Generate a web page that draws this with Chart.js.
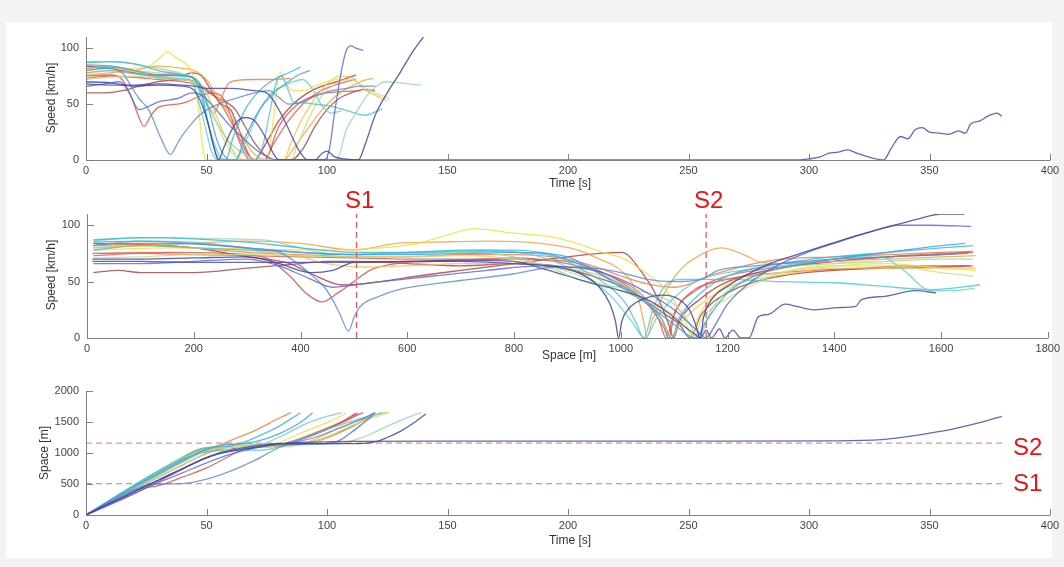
<!DOCTYPE html>
<html>
<head>
<meta charset="utf-8">
<script src="https://cdn.jsdelivr.net/npm/chart.js@4.4.0/dist/chart.umd.min.js"></script>
<style>
  body { margin: 0; background: #f3f3f3; width: 1064px; height: 567px; overflow: hidden; position: relative; font-family: "Liberation Sans", Arial, sans-serif; }
  #sheet { position: absolute; left: 6px; top: 22px; width: 1046px; height: 536px; background: #ffffff; }
  canvas { position: absolute; left: 0; }
  .mark { position: absolute; color: #ee1111; font: 24px "Liberation Sans", Arial, sans-serif; line-height: 24px; }
</style>
</head>
<body>
<div id="sheet"></div>
<canvas id="speedTimeCanvas" width="1064" height="190" style="top:0px"></canvas>
<canvas id="speedSpaceCanvas" width="1064" height="175" style="top:190px"></canvas>
<canvas id="spaceTimeCanvas" width="1064" height="202" style="top:365px"></canvas>
<div class="mark" style="left:345px; top:188px">S1</div>
<div class="mark" style="left:694px; top:188px">S2</div>
<div class="mark" style="left:1013px; top:435px">S2</div>
<div class="mark" style="left:1013px; top:471px">S1</div>
<script>
//tick values of the axes
const timeTicks = [0, 50, 100, 150, 200, 250, 300, 350, 400];
const spaceTicksX = [0, 200, 400, 600, 800, 1000, 1200, 1400, 1600, 1800];
const speedTicks = [0, 50, 100];
const spaceTicksY = [0, 500, 1000, 1500, 2000];

//positions of the two sections [m]
const S1 = 505;
const S2 = 1160;
const dashEndTime = 380;

//one colour per vehicle (jet-like order)
const vehicleColors = [
  "#4444b2", "#3a3aa8", "#4c6cd8", "#5a88de", "#3d9ee2", "#2fb6e6",
  "#46c6d6", "#66d2c6", "#96da9a", "#c6e274", "#f8da3c", "#f6c24a",
  "#f4a23a", "#f07a3a", "#e25a46", "#dc4c4c", "#b83232", "#a04444",
];

//speed [km/h] over time [s], one list of [t, v] per vehicle
const speedTime = [
  [[0,68],[10,67],[20,67],[30,68],[40,67],[45,66],[50,64],[60,64],[70,62],[75,60],[80,45],[84,28],[88,10],[92,0],[150,0],[296,0],[300,1],[305,3],[308,6],[312,7],[316,9],[320,6],[326,2],[331,0],[334,10],[338,21],[341,19],[344,27],[347,29],[350,25],[354,24],[358,23],[362,26],[365,24],[367,32],[371,35],[374,39],[378,42],[380,39]],
  [[0,70],[10,69],[20,66],[30,67],[40,66],[45,62],[48,50],[51,30],[53,12],[55,0],[57,10],[60,25],[63,35],[66,38],[70,35],[74,22],[78,5],[80,0],[95,0],[98,6],[100,8],[103,3],[107,1],[113,0],[116,15],[120,40],[125,60],[130,77],[135,95],[140,110]],
  [[0,66],[8,68],[14,70],[18,60],[22,45],[26,48],[30,52],[38,55],[44,60],[48,58],[52,50],[56,40],[60,30],[65,20],[70,10],[76,2],[80,0],[99,0],[101,10],[103,40],[106,80],[108,98],[110,102],[112,100],[115,98]],
  [[0,80],[8,82],[15,78],[19,65],[22,55],[26,45],[31,20],[35,5],[38,15],[40,22],[44,33],[47,40],[51,46],[55,50],[62,55],[70,60],[76,62],[80,56],[84,50],[90,52],[96,58],[102,62],[108,64],[114,66],[120,66]],
  [[0,85],[10,84],[20,80],[30,76],[40,75],[45,73],[48,65],[51,45],[54,20],[57,5],[60,0],[62,0],[66,20],[72,45],[78,60],[84,70],[88,76],[93,80]],
  [[0,87],[10,88],[20,86],[30,80],[40,76],[45,72],[48,60],[50,40],[52,20],[54,5],[56,0],[58,0],[61,20],[66,45],[72,62],[78,72],[84,78],[89,83]],
  [[0,78],[10,80],[20,77],[30,75],[40,76],[45,72],[48,55],[51,30],[54,10],[56,2],[60,0],[70,0],[73,10],[76,40],[79,70],[81,75],[84,62],[86,52],[90,51],[95,50],[102,48],[110,43],[116,40],[120,43],[123,46]],
  [[0,82],[10,84],[20,80],[30,74],[40,73],[44,70],[47,50],[50,25],[52,8],[55,0],[62,0],[66,15],[70,35],[74,52],[78,62],[82,66],[86,70],[90,72],[95,60],[98,48],[102,42],[106,44]],
  [[0,88],[10,88],[20,86],[30,82],[40,77],[45,72],[50,50],[55,30],[60,15],[66,5],[72,0],[104,0],[108,27],[112,42],[116,56],[120,65],[124,70],[130,69],[139,67]],
  [[0,72],[10,74],[20,75],[30,73],[40,72],[46,68],[50,55],[54,35],[58,15],[62,3],[66,0],[85,0],[88,15],[92,35],[96,52],[100,62],[105,70],[110,72],[115,66],[120,60],[126,55]],
  [[0,78],[10,80],[20,82],[26,84],[30,90],[34,97],[37,92],[40,88],[43,82],[45,70],[47,40],[48.5,10],[50,0],[75,0],[78,40],[80.5,79],[83,68],[86,62],[90,62],[95,66],[100,70],[106,73]],
  [[0,80],[10,82],[20,80],[30,78],[40,76],[46,72],[50,60],[54,40],[58,20],[62,5],[66,0],[82,0],[85,15],[90,38],[95,55],[100,68],[105,75],[110,74],[115,64],[120,58],[125,53]],
  [[0,76],[10,78],[20,80],[30,84],[40,82],[45,80],[50,72],[55,55],[60,40],[64,25],[68,10],[72,2],[78,0],[82,0],[86,10],[92,28],[98,45],[104,58],[110,66],[115,71],[119,73]],
  [[0,82],[10,83],[20,78],[30,74],[40,72],[45,70],[48,60],[50,50],[53,42],[56,55],[59,68],[62,71],[70,72],[78,72],[85,73]],
  [[0,73],[10,75],[20,74],[30,72],[40,70],[48,66],[52,60],[56,50],[60,35],[64,18],[67,5],[70,0],[74,0],[78,15],[84,35],[90,50],[96,60],[102,66],[108,70],[112,72]],
  [[0,75],[10,76],[15,72],[19,55],[22,38],[24,30],[27,40],[30,47],[38,50],[42,52],[47,57],[52,60],[57,55],[60,40],[63,20],[66,5],[68,0],[74,0],[80,30],[88,50],[100,60],[114,62]],
  [[0,84],[10,82],[20,78],[30,76],[40,76],[44,78],[48,75],[52,62],[56,50],[60,45],[63,30],[66,12],[68,3],[70,0],[72,5],[76,20],[80,35],[86,50],[92,60],[98,66],[104,70],[108,73],[112,76]],
  [[0,60],[8,60],[15,62],[22,66],[30,70],[40,72],[45,70],[50,62],[55,55],[58,52],[62,45],[66,30],[70,15],[74,5],[78,0],[85,0],[90,10],[95,30],[100,45],[105,55],[110,60],[115,63],[120,62]],
];

//speed [km/h] over space [m], one list of [s, v] per vehicle
const speedSpace = [
  [[10,68],[100,68],[200,67],[300,67],[400,67],[500,67],[600,68],[700,69],[800,68],[850,62],[900,55],[950,48],[1000,42],[1050,34],[1090,22],[1120,10],[1140,3],[1150,0],[1160,7],[1170,0],[1185,8],[1195,0],[1210,7],[1225,0],[1240,0],[1258,19],[1277,21],[1308,30],[1330,28],[1364,25],[1407,27],[1440,28],[1451,34],[1495,37],[1551,42],[1591,40]],
  [[10,70],[100,70],[200,71],[300,72],[360,66],[420,58],[460,60],[500,67],[600,68],[700,68],[800,66],[880,63],[930,56],[960,45],[980,30],[990,15],[996,0],[1002,15],[1015,26],[1040,34],[1080,38],[1110,34],[1130,24],[1140,12],[1149,0],[1155,18],[1170,34],[1200,46],[1270,64],[1330,74],[1395,84],[1450,92],[1520,101],[1560,106],[1600,110],[1644,110]],
  [[12,66],[100,66],[200,68],[300,70],[360,64],[420,52],[460,45],[500,47],[550,50],[650,55],[750,60],[850,64],[950,60],[1000,52],[1050,40],[1100,25],[1140,8],[1160,0],[1175,10],[1200,30],[1250,52],[1300,66],[1350,76],[1400,84],[1460,93],[1520,100],[1580,100],[1656,99]],
  [[12,82],[60,84],[150,84],[250,82],[330,78],[361,76],[400,64],[423,55],[445,45],[460,34],[475,20],[490,6],[500,18],[510,27],[547,37],[584,43],[650,48],[700,51],[800,57],[878,63],[950,62],[1000,58],[1050,52],[1100,50],[1150,52],[1183,60],[1250,64],[1300,66],[1400,70],[1500,72],[1600,74],[1650,75]],
  [[12,85],[100,86],[200,84],[300,80],[400,76],[500,74],[600,74],[700,75],[800,76],[900,72],[950,60],[1000,45],[1050,30],[1100,12],[1140,0],[1160,15],[1200,40],[1250,55],[1300,62],[1400,70],[1500,76],[1600,82],[1645,84]],
  [[12,87],[100,89],[200,88],[300,85],[400,80],[500,76],[600,76],[700,78],[800,78],[870,74],[930,64],[990,50],[1040,35],[1075,18],[1095,0],[1110,18],[1150,40],[1200,55],[1300,66],[1400,72],[1500,76],[1600,80],[1660,82]],
  [[12,78],[100,82],[200,80],[300,78],[400,76],[500,74],[600,76],[700,77],[800,76],[880,72],[930,60],[980,45],[1010,30],[1030,12],[1043,0],[1060,25],[1080,45],[1110,52],[1150,52],[1200,52],[1300,50],[1400,49],[1488,46],[1581,43],[1673,47]],
  [[12,82],[100,86],[200,85],[300,80],[400,76],[460,74],[550,75],[650,76],[750,78],[850,72],[920,58],[980,38],[1020,15],[1045,0],[1070,20],[1110,40],[1150,52],[1200,58],[1300,64],[1400,70],[1482,73],[1530,60],[1581,42],[1620,42],[1663,44]],
  [[12,86],[60,88],[150,89],[250,88],[330,87],[400,80],[450,75],[500,74],[600,75],[700,76],[800,72],[880,60],[920,52],[960,47],[1000,45],[1050,40],[1100,30],[1130,12],[1145,0],[1170,25],[1200,42],[1250,55],[1300,62],[1400,66],[1500,68],[1600,70],[1660,70]],
  [[12,71],[100,72],[200,74],[300,74],[400,73],[500,72],[600,72],[700,73],[800,70],[880,62],[940,52],[1000,42],[1060,30],[1100,20],[1130,5],[1138,0],[1150,15],[1200,35],[1250,48],[1300,58],[1400,64],[1500,64],[1600,58],[1660,55]],
  [[12,78],[150,80],[300,79],[450,78],[550,80],[620,84],[680,92],[725,97],[800,93],[878,89],[930,82],[965,76],[1002,71],[1040,60],[1080,45],[1110,25],[1125,10],[1133,0],[1145,18],[1170,35],[1200,48],[1300,58],[1400,64],[1500,66],[1600,62],[1665,60]],
  [[12,80],[100,82],[200,80],[300,78],[400,72],[450,66],[520,63],[600,64],[700,66],[800,66],[900,62],[1000,48],[1050,30],[1080,15],[1095,0],[1110,12],[1150,30],[1200,45],[1250,52],[1300,56],[1400,62],[1500,62],[1600,62],[1665,62]],
  [[12,80],[100,82],[200,84],[300,86],[400,84],[500,78],[580,84],[650,85],[750,86],[850,84],[920,78],[960,70],[1000,60],[1030,40],[1045,10],[1049,0],[1059,16],[1102,55],[1150,74],[1189,80],[1230,74],[1264,67],[1300,66],[1400,68],[1500,70],[1600,72],[1665,73]],
  [[12,82],[100,83],[200,80],[300,76],[400,74],[500,72],[600,72],[700,74],[800,74],[900,70],[960,62],[1000,55],[1050,48],[1100,45],[1130,48],[1160,54],[1200,60],[1250,66],[1300,70],[1400,72],[1500,74],[1600,76],[1660,77]],
  [[12,73],[100,75],[200,74],[300,73],[400,72],[500,71],[600,70],[700,70],[800,71],[900,66],[980,55],[1040,38],[1070,18],[1085,0],[1100,22],[1140,42],[1200,55],[1300,63],[1400,68],[1500,72],[1600,75],[1660,76]],
  [[10,75],[150,76],[300,74],[340,70],[380,55],[410,40],[440,32],[470,40],[500,50],[530,60],[580,66],[650,68],[800,70],[900,68],[980,55],[1040,35],[1080,10],[1090,0],[1100,20],[1130,40],[1180,50],[1300,58],[1450,62],[1550,64],[1660,64]],
  [[12,84],[100,83],[200,80],[300,72],[380,66],[420,57],[480,47],[550,50],[620,55],[700,60],[800,66],[900,72],[960,75],[1002,76],[1040,58],[1070,35],[1090,12],[1099,0],[1110,15],[1150,35],[1200,50],[1300,62],[1400,68],[1500,72],[1600,74],[1655,76]],
  [[12,58],[60,60],[100,58],[200,58],[300,62],[400,66],[450,68],[500,68],[600,66],[700,64],[800,66],[880,64],[940,56],[1000,46],[1050,32],[1080,22],[1110,12],[1130,0],[1150,20],[1200,40],[1300,55],[1400,60],[1500,62],[1600,63],[1655,64]],
];

//space [m] over time [s], one list of [t, s] per vehicle
const spaceTime = [
  [[0,0],[10,190],[20,375],[30,560],[40,745],[50,925],[60,1040],[70,1110],[80,1150],[90,1170],[100,1180],[110,1188],[150,1190],[250,1192],[310,1196],[330,1215],[340,1260],[350,1320],[360,1390],[370,1480],[380,1590]],
  [[0,0],[10,195],[20,380],[30,565],[40,750],[50,920],[55,990],[60,1025],[66,1065],[72,1100],[78,1145],[80,1150],[113,1152],[120,1180],[125,1250],[130,1340],[135,1460],[141,1630]],
  [[0,0],[10,180],[20,350],[30,520],[40,680],[50,840],[60,980],[70,1080],[80,1130],[99,1150],[103,1170],[106,1220],[110,1330],[115,1480],[119,1600]],
  [[0,0],[10,215],[20,410],[26,490],[30,500],[40,507],[50,580],[60,709],[70,880],[80,1085],[87,1173],[95,1250],[105,1400],[115,1560],[120,1650]],
  [[0,0],[10,235],[20,460],[30,680],[40,890],[50,1060],[55,1120],[60,1140],[63,1142],[70,1180],[80,1310],[90,1520],[94,1650]],
  [[0,0],[10,240],[20,480],[30,710],[40,920],[47,1060],[52,1090],[56,1100],[60,1115],[66,1180],[72,1280],[80,1430],[89,1650]],
  [[0,0],[10,220],[20,435],[30,645],[40,855],[48,1000],[52,1035],[56,1045],[70,1046],[76,1060],[82,1130],[90,1240],[100,1380],[110,1510],[123,1650]],
  [[0,0],[10,230],[20,450],[30,660],[40,860],[46,980],[50,1020],[55,1040],[62,1042],[68,1075],[74,1150],[82,1290],[90,1450],[98,1570],[106,1650]],
  [[0,0],[10,245],[20,485],[30,715],[40,935],[45,1030],[50,1080],[55,1115],[60,1135],[66,1143],[72,1145],[104,1147],[108,1170],[112,1215],[116,1270],[120,1340],[126,1450],[132,1550],[139,1650]],
  [[0,0],[10,200],[20,405],[30,610],[40,810],[46,925],[50,985],[55,1050],[60,1090],[66,1110],[85,1115],[90,1135],[95,1190],[100,1260],[110,1440],[118,1560],[126,1655]],
  [[0,0],[10,220],[20,445],[30,690],[34,790],[40,935],[45,1040],[48,1080],[50,1090],[75,1092],[80,1160],[85,1250],[90,1335],[100,1490],[106,1600],[108,1650]],
  [[0,0],[10,225],[20,450],[30,670],[40,880],[46,995],[50,1040],[55,1075],[62,1095],[66,1098],[82,1100],[88,1130],[95,1220],[105,1400],[115,1560],[125,1660]],
  [[0,0],[10,215],[20,440],[30,670],[40,900],[45,1010],[50,1060],[56,1090],[62,1110],[70,1122],[78,1125],[86,1130],[92,1160],[98,1220],[104,1310],[112,1460],[119,1640]],
  [[0,0],[10,230],[20,455],[30,670],[40,870],[45,970],[50,1055],[53,1090],[56,1130],[60,1200],[70,1360],[80,1560],[85,1650]],
  [[0,0],[10,205],[20,410],[30,610],[40,805],[48,960],[52,1025],[56,1070],[60,1090],[66,1100],[74,1102],[80,1120],[90,1230],[100,1390],[110,1560],[113,1650]],
  [[0,0],[10,210],[20,400],[25,440],[30,475],[40,610],[50,760],[60,960],[65,1060],[68,1088],[74,1092],[80,1130],[90,1250],[100,1400],[115,1650]],
  [[0,0],[10,225],[20,445],[30,655],[40,865],[48,1030],[52,1075],[56,1090],[63,1100],[70,1105],[76,1110],[82,1140],[90,1230],[100,1380],[106,1500],[112,1640]],
  [[0,0],[10,165],[20,345],[30,540],[40,740],[45,835],[50,925],[55,1000],[60,1060],[66,1110],[70,1130],[78,1140],[85,1142],[95,1190],[105,1330],[114,1500],[120,1650]],
];

const tickFont = { family: "'Liberation Sans', Arial, sans-serif", size: 11 };

/**
 * draws matlab-like axes: grey left/bottom lines, inward ticks and axis titles
 */
const matlabAxes = {
  id: "matlabAxes",
  afterDraw(chart, args, opts) {
    const { ctx, chartArea: area, scales } = chart;
    const x = scales.x;
    const y = scales.y;
    ctx.save();
    ctx.strokeStyle = "#808080";
    ctx.lineWidth = 1;
    ctx.beginPath();
    ctx.moveTo(area.left + 0.5, area.top);
    ctx.lineTo(area.left + 0.5, area.bottom + 0.5);
    ctx.lineTo(area.right + 0.5, area.bottom + 0.5);
    x.ticks.forEach((t) => {
      const px = Math.round(x.getPixelForValue(t.value)) + 0.5;
      ctx.moveTo(px, area.bottom);
      ctx.lineTo(px, area.bottom - 6);
    });
    y.ticks.forEach((t) => {
      const py = Math.round(y.getPixelForValue(t.value)) + 0.5;
      ctx.moveTo(area.left, py);
      ctx.lineTo(area.left + 7, py);
    });
    ctx.stroke();

    //axis titles
    ctx.fillStyle = "#333333";
    ctx.font = "12px 'Liberation Sans', Arial, sans-serif";
    ctx.textAlign = "center";
    ctx.textBaseline = "middle";
    ctx.fillText(opts.xTitle, opts.xTitleX, opts.xTitleY);
    ctx.translate(opts.yTitleX, opts.yTitleY);
    ctx.rotate(-Math.PI / 2);
    ctx.fillText(opts.yTitle, 0, 0);
    ctx.restore();
  },
};

/**
 * builds the line datasets of one panel from its list of vehicle curves
 */
const vehicleDatasets = (curves) =>
  curves.map((pts, i) => ({
    data: pts.map((p) => ({ x: p[0], y: p[1] })),
    borderColor: vehicleColors[i] + "d0", //slightly washed out like the original
    borderWidth: 1.3,
    pointRadius: 0,
    cubicInterpolationMode: "monotone",
    fill: false,
  }));

/**
 * dashed red reference line between two points
 */
const dashedLine = (x0, y0, x1, y1, color) => ({
  data: [{ x: x0, y: y0 }, { x: x1, y: y1 }],
  borderColor: color,
  borderWidth: 1.3,
  borderDash: [6, 4],
  pointRadius: 0,
  fill: false,
});

/**
 * creates one panel; p holds the fixed geometry so that the plot areas line up
 */
const makePanel = (canvasId, datasets, p) => {
  const ctx = document.getElementById(canvasId).getContext("2d");
  return new Chart(ctx, {
    type: "line",
    data: { datasets: datasets },
    options: {
      responsive: false,
      animation: false,
      events: [],
      layout: { padding: { top: p.padTop, right: 14, left: 0, bottom: 0 } },
      plugins: {
        legend: { display: false },
        tooltip: { enabled: false },
        matlabAxes: p.titles,
      },
      scales: {
        x: {
          type: "linear",
          min: p.xTicks[0],
          max: p.xTicks[p.xTicks.length - 1],
          afterBuildTicks: (s) => { s.ticks = p.xTicks.map((v) => ({ value: v })); },
          afterFit: (s) => { s.height = p.xHeight; },
          grid: { display: false, drawTicks: false },
          border: { display: false },
          ticks: { font: tickFont, color: "#444444", padding: 4, maxRotation: 0, autoSkip: false, callback: (v) => String(v) },
        },
        y: {
          type: "linear",
          min: 0,
          max: p.yMax,
          afterBuildTicks: (s) => { s.ticks = p.yTicks.map((v) => ({ value: v })); },
          afterFit: (s) => { s.width = p.yWidth; },
          grid: { display: false, drawTicks: false },
          border: { display: false },
          ticks: { font: tickFont, color: "#444444", padding: 7, callback: (v) => String(v) },
        },
      },
    },
    plugins: [matlabAxes],
  });
};

//top panel: speed over time
makePanel("speedTimeCanvas", vehicleDatasets(speedTime), {
  padTop: 37, xHeight: 30, yWidth: 86, yMax: 110,
  xTicks: timeTicks, yTicks: speedTicks,
  titles: { xTitle: "Time [s]", xTitleX: 570, xTitleY: 184, yTitle: "Speed [km/h]", yTitleX: 52, yTitleY: 98 },
});

//middle panel: speed over space, with the section lines
makePanel("speedSpaceCanvas", [
  dashedLine(S1, 0, S1, 110, "#e05a5a"),
  dashedLine(S2, 0, S2, 110, "#e05a5a"),
  ...vehicleDatasets(speedSpace),
], {
  padTop: 24, xHeight: 27, yWidth: 87, yMax: 110,
  xTicks: spaceTicksX, yTicks: speedTicks,
  titles: { xTitle: "Space [m]", xTitleX: 569, xTitleY: 166, yTitle: "Speed [km/h]", yTitleX: 52, yTitleY: 85 },
});

//bottom panel: space over time, with the section lines
makePanel("spaceTimeCanvas", [
  ...vehicleDatasets(spaceTime),
  dashedLine(0, S1, dashEndTime, S1, "#f08a8a"),
  dashedLine(0, S2, dashEndTime, S2, "#f08a8a"),
], {
  padTop: 26, xHeight: 52, yWidth: 86, yMax: 2000,
  xTicks: timeTicks, yTicks: spaceTicksY,
  titles: { xTitle: "Time [s]", xTitleX: 570, xTitleY: 176, yTitle: "Space [m]", yTitleX: 45, yTitleY: 88 },
});
</script>
</body>
</html>
